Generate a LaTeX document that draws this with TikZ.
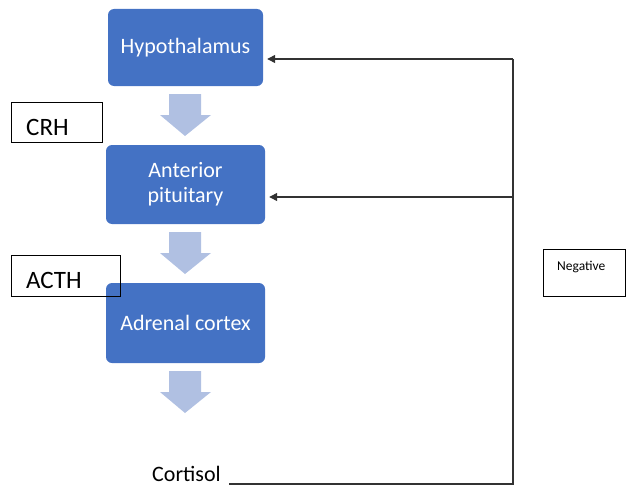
\documentclass[tikz,border=0pt]{standalone}
\usepackage{fontspec}
\setmainfont{Carlito}
\usetikzlibrary{arrows.meta}
\definecolor{boxblue}{RGB}{68,114,196}
\definecolor{arrblue}{RGB}{176,192,226}
\definecolor{fbline}{RGB}{50,50,50}
\begin{document}
\begin{tikzpicture}[x=1pt,y=-1pt,
  organ/.style={rectangle,rounded corners=6pt,fill=boxblue,text=white,
    font=\fontsize{22}{25}\selectfont,align=center,inner sep=0pt},
  label box/.style={rectangle,draw=black,line width=0.8pt,anchor=north west,inner sep=0pt},
  blockarrow/.style={fill=arrblue},
  feedback/.style={draw=fbline,line width=1.3pt},
  fbarrow/.style={feedback,-{Triangle[length=8pt,width=8pt]},shorten >=4pt}]
\useasboundingbox (0,0) rectangle (629,487);
% organ boxes
\node[organ,minimum width=155pt,minimum height=77pt] (hyp) at (185.5,47.5) {Hypothalamus};
\node[organ,minimum width=159pt,minimum height=79pt] (ant) at (185.5,184.5) {Anterior\\pituitary};
\node[organ,minimum width=159pt,minimum height=80pt] (adr) at (185.5,323) {Adrenal cortex};
% block arrows
\foreach \t in {94,232,371}{
  \fill[blockarrow] (169,\t) -- (201,\t) -- (201,\t+21) -- (211,\t+21) -- (185,\t+42) -- (160,\t+21) -- (169,\t+21) -- cycle;
}
% hormone label boxes
\node[label box,minimum width=91pt,minimum height=40pt] (crhbox) at (11,102) {};
\node[anchor=base west,font=\fontsize{25}{30}\selectfont,inner sep=0pt] (crh) at (26,135) {CRH};
\node[label box,minimum width=109pt,minimum height=41pt] (acthbox) at (11,255) {};
\node[anchor=base west,font=\fontsize{25}{30}\selectfont,inner sep=0pt] (acth) at (26,288) {ACTH};
% cortisol
\node[anchor=base west,font=\fontsize{22}{26}\selectfont,inner sep=0pt] (cort) at (152,481.5) {Cortisol};
\coordinate (lstart) at (229,484);
\coordinate (corner) at (513,484);
\coordinate (top) at (513,59);
\coordinate (mid) at (513,197);
% negative box
\node[label box,minimum width=82pt,minimum height=47pt] (negbox) at (543,249) {};
\node[anchor=base west,font=\fontsize{13.5}{16}\selectfont,inner sep=0pt] (neg) at (557,270) {Negative};
% feedback lines
\draw[feedback] (lstart) -- (corner) -- (top);
\draw[fbarrow] (top) -- (hyp.east |- top);
\draw[fbarrow] (mid) -- (ant.east |- mid);
\end{tikzpicture}
\end{document}
